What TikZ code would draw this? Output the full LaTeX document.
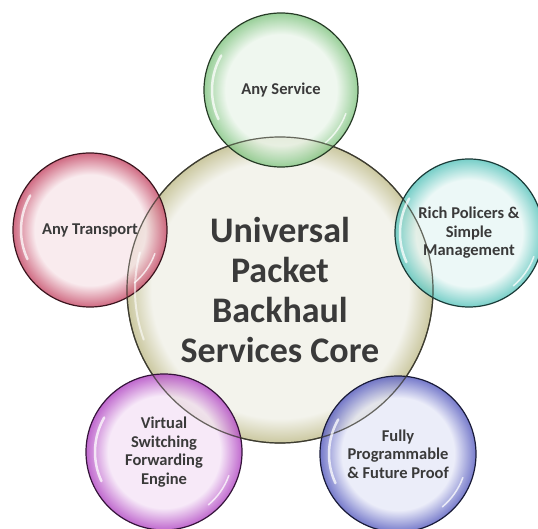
\documentclass[tikz,border=0pt]{standalone}
\usepackage{fontspec}
\setmainfont{Carlito}
\usetikzlibrary{calc}
\definecolor{coreout}{HTML}{CBC8A0}
\definecolor{corein}{HTML}{F3F3EC}
\definecolor{svcout}{HTML}{80C480}
\definecolor{svcin}{HTML}{ECF6EC}
\definecolor{trpout}{HTML}{C44563}
\definecolor{trpin}{HTML}{F8E6EA}
\definecolor{polout}{HTML}{56C3BB}
\definecolor{polin}{HTML}{E8F7F5}
\definecolor{vsfout}{HTML}{B043C2}
\definecolor{vsfin}{HTML}{F5E4F7}
\definecolor{fpfout}{HTML}{5459BE}
\definecolor{fpfin}{HTML}{E7E9F8}
\definecolor{labelgray}{HTML}{3A3A3A}
\colorlet{bubin}{white}
\colorlet{bubout}{gray}
\pgfdeclareradialshading[bubin,bubout]{bubble}{\pgfpoint{0bp}{0bp}}{color(0bp)=(bubin); color(18bp)=(bubin); color(25bp)=(bubout); color(50bp)=(bubout)}
\pgfdeclareradialshading[bubin,bubout]{corebubble}{\pgfpoint{0bp}{0bp}}{color(0bp)=(bubin); color(21bp)=(bubin); color(25bp)=(bubout); color(50bp)=(bubout)}
\tikzset{
    every node/.style={text=labelgray},
    bubble/.style 2 args={circle,draw=#1!30!black,line width=1.2pt,inner sep=0pt,align=center,
        /utils/exec={\colorlet{bubout}{#1}\colorlet{bubin}{#2}},shading=bubble},
    core/.style={bubble={coreout}{corein},shading=corebubble,minimum size=306pt,font=\fontsize{36}{40}\selectfont\bfseries},
    petal/.style={minimum size=154pt,fill opacity=0.8,text opacity=1,font=\fontsize{16.5}{18.5}\selectfont\bfseries},
    gloss/.style={white,line width=2.5pt,line cap=round,opacity=0.75}
}

\begin{document}
\begin{tikzpicture}[x=1pt,y=-1pt]
\useasboundingbox[fill=white] (0,0) rectangle (538,529);
\node[core] (upb) at (280,290) {Universal\\Packet\\Backhaul\\Services Core};
\node[petal,bubble={svcout}{svcin}] (svc) at (281,90) {Any Service};
\node[petal,bubble={trpout}{trpin}] (trp) at (90,230) {Any Transport};
\node[petal,bubble={polout}{polin},minimum size=148pt] (pol) at (469,233) {Rich Policers \&\\Simple\\Management};
\node[petal,bubble={vsfout}{vsfin},minimum size=156pt] (vsf) at (164,452) {Virtual\\Switching\\Forwarding\\Engine};
\node[petal,bubble={fpfout}{fpfin},minimum size=156pt] (fpf) at (398,454) {Fully\\Programmable\\\& Future Proof};
% core rim shows through the petals
\draw[draw=coreout!30!black,line width=1.2pt,opacity=0.7] (upb) circle[radius=153pt];
\draw[gloss,line width=2pt,opacity=0.6] ($(upb)+(200:145pt)$) arc[start angle=200,end angle=165,radius=145pt];
% glassy highlights
\foreach \n in {svc,trp,pol,vsf,fpf}{
  \draw[gloss] ($(\n)+(205:69pt)$) arc[start angle=205,end angle=150,radius=69pt];
  \draw[gloss,line width=1.5pt] ($(\n)+(-20:69pt)$) arc[start angle=-20,end angle=-50,radius=69pt];
}
\end{tikzpicture}
\end{document}
